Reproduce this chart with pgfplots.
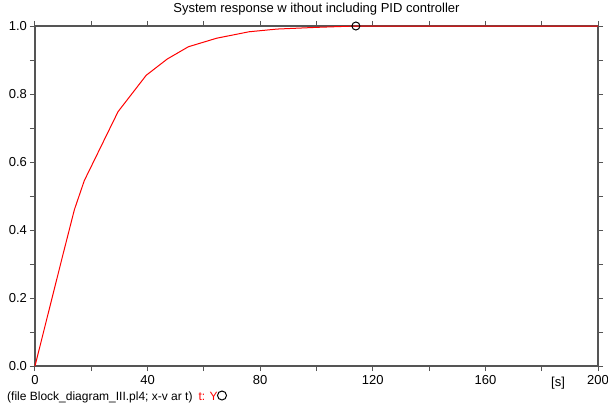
\documentclass[border=0pt]{standalone}
\usepackage{fontspec}
\setmainfont{Liberation Sans}
\usepackage{pgfplots}
\pgfplotsset{compat=1.18}
\definecolor{axgray}{RGB}{85,85,85}
\definecolor{cred}{RGB}{255,0,0}
\begin{document}
\begin{tikzpicture}[x=1pt,y=1pt]
\useasboundingbox (-35,-42) rectangle (573,366);
\begin{axis}[
  scale only axis,
  width=563pt, height=340pt,
  at={(0,0)}, anchor=south west,
  xmin=0, xmax=200, ymin=0, ymax=1,
  clip=false,
  axis line style={axgray, line width=1.2pt},
  tick style={axgray, line width=1pt},
  tick align=outside,
  major tick length=5pt,
  xtick={0,20,...,200},
  xticklabels={0,,40,,80,,120,,160,,200},
  ytick={0,0.1,...,1.0},
  yticklabels={0.0,,0.2,,0.4,,0.6,,0.8,,1.0},
  tick label style={font=\fontsize{13}{15}\selectfont, text=black},
  xticklabel style={yshift=-0.5pt},
  yticklabel style={xshift=0.5pt},
  title={System response w ithout including PID controller},
  title style={font=\fontsize{13}{15}\selectfont, at={(0.5,1)}, anchor=base, yshift=7.5pt, inner sep=0pt},
]
\addplot[cred, line width=1pt] coordinates {
(0,0) (5,0.165) (10,0.33) (14,0.46) (17.5,0.545) (24,0.655) (29.5,0.748)
(39.5,0.855) (47,0.903) (54.5,0.939) (64.5,0.964) (76,0.983) (86,0.991)
(100,0.996) (114,1.0) (200,1.0)
};
\addplot[black, only marks, mark=o, mark size=4pt, line width=1pt] coordinates {(114,1.0)};
\node[font=\fontsize{13}{15}\selectfont, anchor=north] at (axis cs:185.8,0) [yshift=-7.5pt] {[s]};
\end{axis}
\node[anchor=base west, font=\fontsize{12}{14}\selectfont, inner sep=0pt] at (-28,-34) {(file Block\_diagram\_III.pl4; x-v ar t)\hspace{0.5em}\textcolor{cred}{t: Y}};
\draw[black, line width=1pt] (187,-29.5) circle (4.5pt);
\end{tikzpicture}
\end{document}
